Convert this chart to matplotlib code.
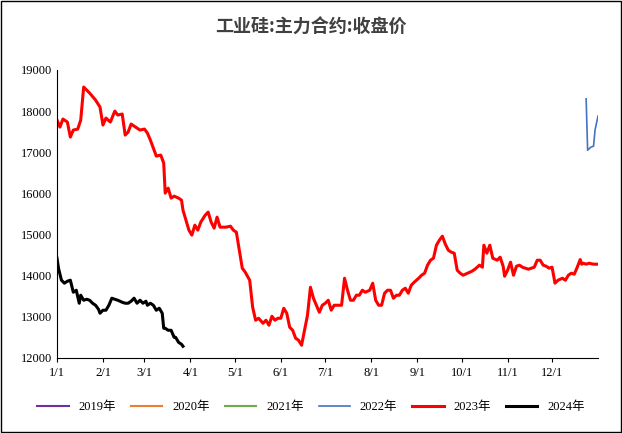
import matplotlib.pyplot as plt
import numpy as np
import datetime as dt

# day of year (0 = 1/1) and price
days_2023 = [0,2,4,7,9,11,14,16,18,22,26,29,31,33,36,39,41,44,46,48,50,52,54,56,59,61,63,65,67,70,72,73,75,77,79,82,84,85,87,89,91,93,95,97,100,102,104,106,108,110,112,114,117,119,121,123,125,127,130,132,134,136,139,141,143,145,147,149,151,153,155,157,159,161,163,165,167,169,171,173,175,177,179,181,183,185,187,189,192,194,196,198,200,202,204,206,208,211,213,215,217,219,221,223,225,227,229,231,233,235,237,239,241,244,246,248,250,252,254,256,258,260,262,264,266,268,270,272,274,277,280,282,285,287,288,290,292,294,297,299,301,302,304,306,308,310,312,314,316,318,320,322,324,326,328,330,332,334,336,338,341,343,345,347,349,351,353,354,355,357,359,362,364]
vals_2023 = [17783,17613,17808,17735,17370,17540,17564,17783,18586,18440,18270,18100,17662,17832,17735,18002,17905,17930,17418,17492,17686,17637,17589,17540,17564,17467,17297,17102,16907,16932,16737,16007,16129,15886,15934,15886,15837,15594,15350,15107,14986,15229,15107,15302,15472,15545,15302,15156,15424,15180,15180,15180,15204,15107,15058,14620,14183,14085,13891,13234,12918,12966,12844,12918,12796,13015,12918,12966,12966,13209,13088,12747,12674,12480,12431,12310,12674,13039,13720,13453,13282,13112,13282,13331,13404,13161,13282,13282,13282,13939,13647,13404,13404,13526,13526,13647,13599,13647,13818,13404,13282,13282,13574,13647,13647,13453,13526,13526,13647,13696,13574,13769,13842,13939,14012,14061,14256,14377,14426,14742,14864,14961,14767,14620,14572,14548,14134,14061,14012,14061,14110,14158,14256,14207,14742,14548,14742,14426,14377,14450,14231,13988,14134,14329,14012,14231,14256,14207,14183,14158,14183,14207,14377,14377,14256,14231,14183,14207,13818,13890,13939,13890,14012,14061,14037,14207,14393,14280,14304,14280,14304,14280,14280]
days_2024 = [0,1,3,5,7,9,11,13,15,16,18,20,22,24,26,28,29,31,33,35,37,39,41,44,46,48,50,52,54,56,58,60,61,63,65,67,69,71,72,73,75,77,79,80,82,84,85]
vals_2024 = [14426,14183,13891,13818,13866,13891,13599,13647,13331,13526,13404,13428,13404,13331,13282,13185,13088,13161,13161,13282,13453,13428,13404,13355,13331,13331,13380,13453,13331,13404,13331,13380,13282,13331,13282,13161,13209,13088,12723,12723,12674,12674,12504,12504,12382,12334,12285]
days_2022 = [357,358,360,362,363,365]
vals_2022 = [18300,17050,17120,17150,17540,17880]

names = ['2019年', '2020年', '2021年', '2022年', '2023年', '2024年']
colors = ['#7030A0', '#ED7D31', '#70AD47', '#4472C4', '#FF0000', '#000000']
series = {'2022年': (days_2022, vals_2022), '2023年': (days_2023, vals_2023), '2024年': (days_2024, vals_2024)}

plt.rcParams['font.family'] = ['Liberation Serif', 'Noto Sans CJK SC']

fig = plt.figure(figsize=(6.22, 4.33), dpi=100)
fig.patches.append(plt.Rectangle((0.002, 0.002), 0.996, 0.996, transform=fig.transFigure,
                                 fill=False, edgecolor='black', linewidth=1))
ax = fig.add_axes([57 / 622, 1 - 358 / 433, 541 / 622, 288 / 433])

for name, c in zip(names, colors):
    if name in series:
        d, v = series[name]
        lw = 1.2 if name == '2022年' else 2.2
        ax.plot(d, v, color=c, linewidth=lw, label=name)
    else:
        ax.plot([], [], color=c, linewidth=1.5, label=name)

month_starts = [(dt.date(2023, m, 1) - dt.date(2023, 1, 1)).days for m in range(1, 13)]
ax.set_xticks(month_starts)
ax.set_xticklabels([f'{m}/1' for m in range(1, 13)], fontsize=9)
ax.set_xlim(0, 365)
ax.set_ylim(12000, 19000)
ax.set_yticks(np.arange(12000, 19001, 1000))
ax.tick_params(axis='y', labelsize=9, length=0)
ax.tick_params(axis='x', length=3)
for s in ['top', 'right']:
    ax.spines[s].set_visible(False)

fig.text(0.5, 0.925, '工业硅:主力合约:收盘价', ha='center', fontsize=13, fontweight='bold',
         color='#404040', family=['Noto Sans CJK SC'])
fig.legend(loc='center', bbox_to_anchor=(0.5, 0.06), ncol=6, frameon=False, fontsize=9,
           handlelength=2.5, columnspacing=1.2)

fig.savefig('out.png', dpi=100)
